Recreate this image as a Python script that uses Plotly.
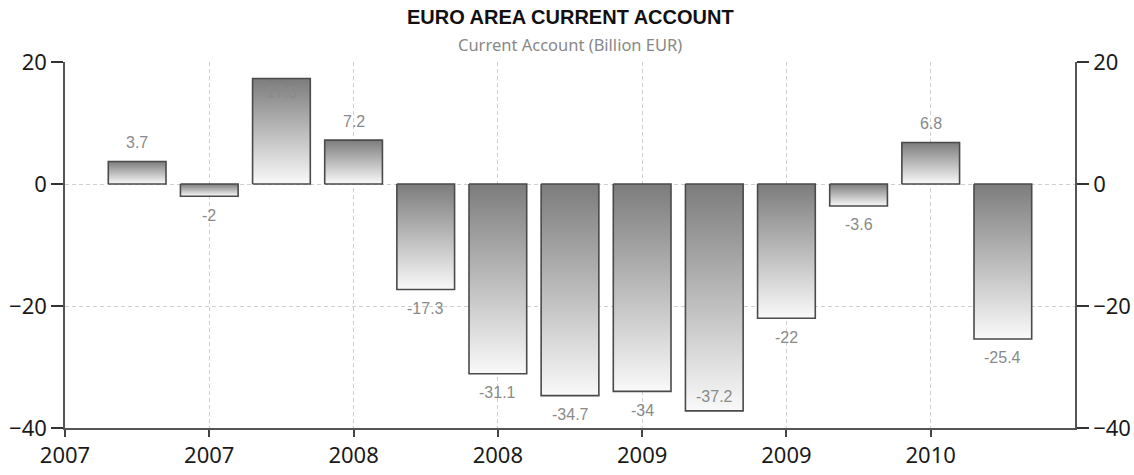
import plotly.graph_objects as go

# ---- data ----
quarters = ["2007Q2", "2007Q3", "2007Q4", "2008Q1", "2008Q2", "2008Q3", "2008Q4",
            "2009Q1", "2009Q2", "2009Q3", "2009Q4", "2010Q1", "2010Q2"]
values = [3.7, -2, 17.3, 7.2, -17.3, -31.1, -34.7, -34, -37.2, -22, -3.6, 6.8, -25.4]
value_labels = ["3.7", "-2", "17.3", "7.2", "-17.3", "-31.1", "-34.7", "-34", "-37.2",
                "-22", "-3.6", "6.8", "-25.4"]
x_tick_positions = [-1, 1, 3, 5, 7, 9, 11]
x_tick_labels = ["2007", "2007", "2008", "2008", "2009", "2009", "2010"]
y_ticks = [20, 0, -20, -40]

title = "EURO AREA CURRENT ACCOUNT"
subtitle = "Current Account (Billion EUR)"

# ---- style ----
W, H = 1134, 475
M_L, M_R, M_T, M_B = 65, 59, 62, 47
Y_MIN, Y_MAX = -40, 20
BAR_W = 0.8
TICK_FONT = dict(family="Noto Sans, Liberation Sans, sans-serif", size=22, color="#1a1a1a")
LABEL_FONT = dict(family="Liberation Sans, Arial, sans-serif", size=16, color="#8a8a8a")
GRID = dict(showgrid=True, gridcolor="#cfcfcf", griddash="4px,3px", gridwidth=1)

fig = go.Figure()

for i, v in enumerate(values):
    xs = [i - BAR_W / 2, i - BAR_W / 2, i + BAR_W / 2, i + BAR_W / 2, i - BAR_W / 2]
    ys = [0, v, v, 0, 0]
    fig.add_trace(go.Scatter(
        x=xs, y=ys, mode="lines", fill="toself",
        fillgradient=dict(type="vertical",
                          colorscale=[[0, "#f9f9f9"], [1, "#7c7c7c"]]),
        line=dict(color="#4a4a4a", width=1.6),
        hoverinfo="skip", showlegend=False,
    ))

# invisible trace for right axis
fig.add_trace(go.Scatter(x=[0], y=[0], yaxis="y2", mode="markers",
                         marker=dict(opacity=0), hoverinfo="skip", showlegend=False))

# value labels
plot_h = H - M_T - M_B
px_per_unit = plot_h / (Y_MAX - Y_MIN)
OUT = 19
IN = 14
for i, (v, t) in enumerate(zip(values, value_labels)):
    if v >= 0:
        shift = -IN if v + (OUT + 8) / px_per_unit > Y_MAX else OUT
    else:
        shift = IN if v - (OUT + 8) / px_per_unit < Y_MIN else -OUT
    fig.add_annotation(x=i, y=v, text=t, showarrow=False, yshift=shift,
                       xanchor="center", yanchor="middle", font=LABEL_FONT)

fig.add_annotation(text="<b>" + title + "</b>", x=0.5, xref="paper", xanchor="center",
                   y=1, yref="paper", yanchor="middle", yshift=45, showarrow=False,
                   font=dict(family="Liberation Sans, Arial, sans-serif", size=20,
                             color="#111111"))
fig.add_annotation(text=subtitle, x=0.5, xref="paper", xanchor="center",
                   y=1, yref="paper", yanchor="middle", yshift=18, showarrow=False,
                   font=dict(family="Noto Sans, Liberation Sans, sans-serif", size=16.5,
                             color="#888888"))

fig.update_layout(
    width=W, height=H,
    margin=dict(l=M_L, r=M_R, t=M_T, b=M_B, autoexpand=False),
    paper_bgcolor="white", plot_bgcolor="white",
    showlegend=False,
    xaxis=dict(range=[-1, 13], tickvals=x_tick_positions, ticktext=x_tick_labels,
               **GRID,
               showline=True, linecolor="#555555", linewidth=1.5,
               ticks="outside", ticklen=7, tickcolor="#444444", tickwidth=1.5,
               tickfont=TICK_FONT, zeroline=False, fixedrange=True, automargin=False),
    yaxis=dict(range=[Y_MIN, Y_MAX], tickvals=y_ticks,
               **GRID,
               showline=True, linecolor="#555555", linewidth=1.5,
               ticks="outside", ticklen=12, tickcolor="#333333", tickwidth=1.5,
               tickfont=TICK_FONT, zeroline=False, fixedrange=True, automargin=False),
    yaxis2=dict(range=[Y_MIN, Y_MAX], tickvals=y_ticks, overlaying="y", side="right",
                showgrid=False, showline=True, linecolor="#555555", linewidth=1.5,
                ticks="outside", ticklen=12, tickcolor="#333333", tickwidth=1.5,
                tickfont=TICK_FONT, zeroline=False, fixedrange=True, automargin=False),
)

fig.write_html(
    "out.html",
    config={"displayModeBar": False},
    post_script="document.body.style.margin='0px';document.body.style.overflow='hidden';",
)
